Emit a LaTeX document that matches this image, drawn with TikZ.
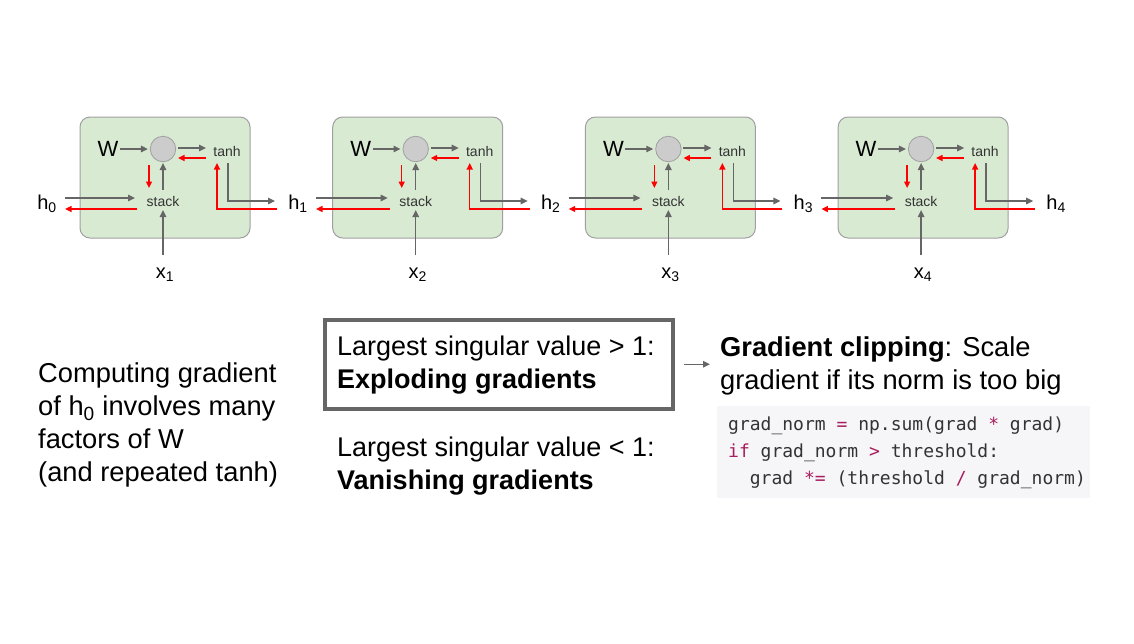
\documentclass[tikz,border=0pt]{standalone}
\usepackage{fontspec}
\setmainfont{Liberation Sans}
\setmonofont{DejaVu Sans Mono}
\usepackage{tikz}
\usetikzlibrary{calc}
\usetikzlibrary{positioning}
\usetikzlibrary{arrows.meta}
\definecolor{cellgreen}{HTML}{D9EAD3}
\definecolor{cellborder}{HTML}{A0A0A0}
\definecolor{dotgray}{HTML}{CCCCCC}
\definecolor{arrowgray}{HTML}{666666}
\definecolor{labelgray}{HTML}{333333}
\definecolor{codebg}{HTML}{F6F6F8}
\definecolor{codekey}{HTML}{A71D5D}
\tikzset{
  cell_box/.style = {draw=cellborder, fill=cellgreen, line width=1pt,
    rounded corners=10pt, minimum width=170pt, minimum height=121pt},
  mult_node/.style = {circle, draw=cellborder, fill=dotgray, line width=0.8pt,
    minimum size=25.5pt, inner sep=0pt},
  op_label/.style = {inner sep=0pt, text=labelgray, font=\fontsize{14}{16}\selectfont},
  var_label/.style = {inner sep=0pt, font=\fontsize{20}{22}\selectfont},
  fwd_arrow/.style = {draw=arrowgray, line width=1.4pt,
    -{Triangle[length=7pt,width=6.5pt]}},
  back_arrow/.style = {draw=red, line width=1.4pt,
    -{Triangle[length=6.5pt,width=6pt]}},
  big_text/.style = {inner sep=0pt, align=left, font=\fontsize{27.3}{33}\selectfont},
  mid_text/.style = {big_text, font=\fontsize{27}{33}\selectfont},
  frame_box/.style = {draw=arrowgray, line width=3.5pt, minimum width=348pt,
    minimum height=89pt, inner sep=0pt},
  code_bg/.style = {fill=codebg, minimum width=373pt, minimum height=92pt, inner sep=0pt},
  code_text/.style = {text=labelgray, align=left, inner sep=0pt,
    font=\ttfamily\fontsize{18}{27}\selectfont}
}
\newcommand{\kw}[1]{\textcolor{codekey}{#1}}

\begin{document}
\begin{tikzpicture}[x=1pt, y=-1pt]
  \useasboundingbox[fill=white] (0,0) rectangle (1134,643);

  % unrolled cells
  \node [var_label] (h0) at (47,204) {h\textsubscript{0}};
  \foreach \i [evaluate=\i as \ox using (\i-1)*252.7,
               evaluate=\i as \j using int(\i-1)] in {1,...,4} {
    \node [cell_box] (cell\i) at ({165+\ox},177.5) {};
    \node [inner sep=0pt, font=\fontsize{22}{24}\selectfont] (W\i) at ({108+\ox},149) {W};
    \node [mult_node] (circ\i) at ({163+\ox},149) {};
    \node [op_label] (tanh\i) at ({227+\ox},151) {tanh};
    \node [op_label] (stack\i) at ({163+\ox},201) {stack};
    \node [var_label] (x\i) at ({165+\ox},275) {x\textsubscript{\i}};
    \node [var_label] (h\i) at ({298+\ox},204) {h\textsubscript{\i}};
    % forward
    \draw [fwd_arrow, shorten <=1.5pt, shorten >=2pt] (W\i.east) -- (circ\i.west);
    \draw [fwd_arrow] ($(circ\i)+(15,-1)$) -- ($(tanh\i)+(-21,-3)$);
    \draw [fwd_arrow] ($(stack\i)+(0,-11)$) -- ($(circ\i)+(0,14)$);
    \draw [fwd_arrow] ($(x\i)+(-2,-20)$) -- ($(stack\i)+(0,9)$);
    \draw [fwd_arrow] ($(h\j)+(18,-6)$) -- ($(stack\i)+(-28,-3)$);
    \draw [fwd_arrow] ($(tanh\i)+(1,12)$) |- ($(h\i)+(-23,-3)$);
    % backward
    \draw [back_arrow] ($(tanh\i)+(-21,7)$) -- ($(circ\i)+(15,9)$);
    \draw [back_arrow] ($(circ\i)+(-14,16)$) -- ($(stack\i)+(-14,-13)$);
    \draw [back_arrow] ($(stack\i)+(-26,8)$) -- ($(h\j)+(18,5)$);
    \draw [back_arrow] ($(h\i)+(-21,5)$) -| ($(tanh\i)+(-10,12)$);
  }

  % notes
  \node [big_text, anchor=north west] (note) at (38,363)
    {Computing gradient\\of h\textsubscript{0} involves many\\factors of W\\(and repeated tanh)};
  \node [frame_box, anchor=north west] (frame) at (323,318) {};
  \node [mid_text, anchor=north west] (explode) at (337,336)
    {Largest singular value > 1:\\\textbf{Exploding gradients}};
  \node [mid_text, anchor=north west] (vanish) at (337,437)
    {Largest singular value < 1:\\\textbf{Vanishing gradients}};
  \node [big_text, anchor=north west] (clip) at (720,337)
    {\textbf{Gradient clipping}: Scale\\gradient if its norm is too big};
  \draw [fwd_arrow, shorten <=9pt, shorten >=10pt] (frame.east) -- (frame.east -| clip.west);
  \node [code_bg, anchor=north west] (codebox) at (717,406) {};
  \node [code_text, anchor=north west] (code) at ($(codebox.north west)+(11,11)$)
    {grad\_norm \kw{=} np.sum(grad \kw{*} grad)\\
     \kw{if} grad\_norm \kw{>} threshold:\\
     \hspace*{21.7pt}grad \kw{*=} (threshold \kw{/} grad\_norm)};
\end{tikzpicture}
\end{document}
